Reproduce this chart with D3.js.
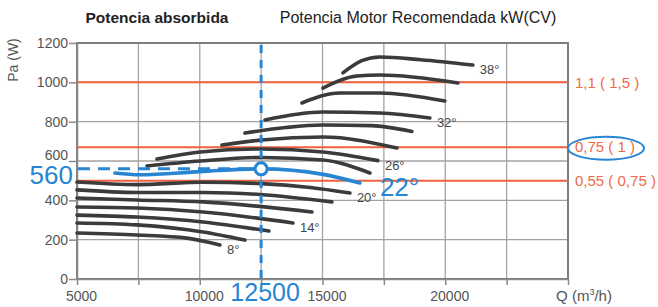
<!DOCTYPE html>
<html>
<head>
<meta charset="utf-8">
<script src="https://cdn.jsdelivr.net/npm/d3@7"></script>
<style>
  body { margin: 0; background: #fff; }
  svg { font-family: "Liberation Sans", Arial, sans-serif; }
  .grid line { stroke: #a3a3a3; stroke-width: 1.3; }
  .axis path, .axis line { stroke: #8a8a8a; stroke-width: 1.5; }
  .axis text { fill: #555; font-size: 14px; }
  .curve { fill: none; stroke: #3b3b3b; stroke-width: 3.6; stroke-linecap: round; }
</style>
</head>
<body>
<script>
// fan curves, [Q m3/h, Pa]
var c8  = [[5000,234],[7443,224],[9479,208],[10823,173]];
var c10 = [[5000,285],[7443,275],[10131,239],[11841,198]];
var c12 = [[5000,325],[7443,315],[10131,290],[12818,244]];
var c14 = [[5000,366],[7443,361],[10131,341],[13795,285]];
var c16 = [[5000,412],[7443,402],[10131,392],[14569,341]];
var c18 = [[5000,453],[7443,440],[10131,440],[12452,430],[15383,392]];
var c20 = [[5000,493],[7443,480],[10131,492],[12500,485],[14500,465],[16116,437]];
var c22 = [[6547,539],[7565,530],[10009,546],[12500,560],[15017,532],[16524,488]];
var c24 = [[7850,575],[10009,600],[12533,618],[15017,605],[16931,539]];
var c26 = [[8258,610],[10009,646],[12533,661],[15017,646],[17257,602]];
var c28 = [[10904,681],[12533,707],[15017,722],[18030,666]];
var c30 = [[11841,742],[13500,770],[15017,783],[17000,780],[18641,750]];
var c32 = [[12655,809],[15017,849],[17338,844],[19374,819]];
var c34 = [[14162,895],[15709,946],[17338,946],[19985,905]];
var c36 = [[15017,971],[16402,1032],[17338,1037],[20514,997]];
var c38 = [[15832,1048],[16600,1110],[17338,1129],[19000,1115],[21125,1088]];

var curves = [c8, c10, c12, c14, c16, c18, c20, c22, c24, c26, c28, c30, c32, c34, c36, c38];
var angles = ["8°","10°","12°","14°","16°","18°","20°","22°","24°","26°","28°","30°","32°","34°","36°","38°"];
var labeled = ["8°","14°","20°","26°","32°","38°"];

// motor power lines
var powerPa = [1000, 670, 500];
var powerLabels = ["1,1 ( 1,5 )", "0,75 ( 1 )", "0,55 ( 0,75 )"];

var opQ = 12500, opPa = 560;

var xTicks = [5000, 7500, 10000, 12500, 15000, 17500, 20000, 22500, 25000];
var xLabels = [5000, 10000, 15000, 20000];
var yTicks = [0, 200, 400, 600, 800, 1000, 1200];

var margin = {top: 43, right: 90, bottom: 28, left: 77},
    width = 658 - margin.left - margin.right,
    height = 307 - margin.top - margin.bottom;

var blue = "#2785d2", red = "#f0603f";

var x = d3.scaleLinear().domain([5000, 25000]).range([0, width]);
var y = d3.scaleLinear().domain([0, 1200]).range([height, 0]);

var svg = d3.select("body").append("svg")
    .attr("width", 658)
    .attr("height", 307);

var g = svg.append("g")
    .attr("transform", "translate(" + margin.left + "," + margin.top + ")");

// grid
g.append("g").attr("class", "grid")
  .selectAll("line").data(xTicks).enter().append("line")
    .attr("x1", function(d) { return x(d); }).attr("x2", function(d) { return x(d); })
    .attr("y1", 0).attr("y2", height);
g.append("g").attr("class", "grid")
  .selectAll("line").data(yTicks).enter().append("line")
    .attr("x1", 0).attr("x2", width)
    .attr("y1", function(d) { return y(d); }).attr("y2", function(d) { return y(d); });

// border
g.append("rect")
  .attr("width", width).attr("height", height)
  .attr("fill", "none").attr("stroke", "#7d7d7d").attr("stroke-width", 2);

// axes
g.append("g")
  .attr("class", "axis")
  .attr("transform", "translate(0," + height + ")")
  .call(d3.axisBottom(x).tickValues(xTicks).tickSize(6).tickSizeOuter(0)
    .tickFormat(function(d) { return xLabels.indexOf(d) >= 0 ? d : ""; }))
  .selectAll("text").attr("dx", 4).attr("dy", "0.95em");

g.append("g")
  .attr("class", "axis")
  .call(d3.axisLeft(y).tickValues(yTicks).tickSize(8).tickSizeOuter(0).tickPadding(1)
    .tickFormat(d3.format("d")))
  .selectAll("text")
  .attr("dy", function(d) { return d == 600 ? "-0.1em" : "0.32em"; }); // 600 sits higher, clear of the 560 label

// power lines
g.selectAll(".power").data(powerPa).enter().append("line")
  .attr("x1", 0).attr("x2", width)
  .attr("y1", function(d) { return y(d); }).attr("y2", function(d) { return y(d); })
  .attr("stroke", red).attr("stroke-width", 2);

g.selectAll(".plabel").data(powerPa).enter().append("text")
  .attr("x", width + 7)
  .attr("y", function(d) { return y(d); })
  .attr("dy", "0.35em")
  .attr("font-size", "15px")
  .attr("fill", "#f06a4a")
  .text(function(d, i) { return powerLabels[i]; });

g.append("ellipse")
  .attr("cx", width + 38).attr("cy", y(powerPa[1]) + 1)
  .attr("rx", 38).attr("ry", 11.5)
  .attr("fill", "none").attr("stroke", blue).attr("stroke-width", 2);

// curves
var line = d3.line()
  .x(function(d) { return x(d[0]); })
  .y(function(d) { return y(d[1]); })
  .curve(d3.curveMonotoneX);

g.selectAll(".curve").data(curves).enter().append("path")
  .attr("class", "curve")
  .attr("d", line)
  .style("stroke", function(d, i) { return angles[i] == "22°" ? blue : null; });

g.selectAll(".alabel").data(curves.filter(function(d, i) { return labeled.indexOf(angles[i]) >= 0; }))
  .enter().append("text")
  .attr("x", function(d) { return x(d[d.length - 1][0]) + 7; })
  .attr("y", function(d) { return y(d[d.length - 1][1]) + 9; })
  .attr("font-size", "13px")
  .attr("fill", "#444")
  .text(function(d) { return angles[curves.indexOf(d)]; });

// operating point
g.append("line")
  .attr("x1", x(opQ)).attr("x2", x(opQ))
  .attr("y1", 2).attr("y2", height)
  .attr("stroke", blue).attr("stroke-width", 3)
  .attr("stroke-dasharray", "8,7");
g.append("line")
  .attr("x1", 1).attr("x2", x(opQ))
  .attr("y1", y(opPa)).attr("y2", y(opPa))
  .attr("stroke", blue).attr("stroke-width", 3)
  .attr("stroke-dasharray", "12,8");
g.append("circle")
  .attr("cx", x(opQ)).attr("cy", y(opPa)).attr("r", 6)
  .attr("fill", "#fff").attr("stroke", blue).attr("stroke-width", 3);

g.append("text")
  .attr("x", -4).attr("y", y(opPa) + 6).attr("dy", "0.36em")
  .attr("text-anchor", "end")
  .attr("font-size", "26px").attr("fill", blue)
  .text(opPa);
g.append("text")
  .attr("x", x(opQ) + 4).attr("y", height + 22)
  .attr("text-anchor", "middle")
  .attr("font-size", "25px").attr("fill", blue)
  .text(opQ);
g.append("text")
  .attr("x", x(c22[c22.length - 1][0]) + 20).attr("y", y(c22[c22.length - 1][1]) + 13)
  .attr("font-size", "26px").attr("fill", blue)
  .text("22°");

// axis titles
g.append("text")
  .attr("x", width + 16).attr("y", height + 22)
  .attr("text-anchor", "middle")
  .attr("font-size", "15px").attr("fill", "#555")
  .html("Q (m<tspan font-size='9px' dy='-6'>3</tspan><tspan dy='6'>/h)</tspan>");

svg.append("text")
  .attr("transform", "translate(18,60) rotate(-90)")
  .attr("text-anchor", "middle")
  .attr("font-size", "14px").attr("fill", "#555")
  .text("Pa (W)");

svg.append("text")
  .attr("x", 157).attr("y", 23)
  .attr("text-anchor", "middle")
  .attr("font-size", "15.5px").attr("font-weight", "bold").attr("fill", "#222")
  .text("Potencia absorbida");
svg.append("text")
  .attr("x", 418).attr("y", 23)
  .attr("text-anchor", "middle")
  .attr("font-size", "16px").attr("fill", "#222")
  .text("Potencia Motor Recomendada kW(CV)");
</script>
</body>
</html>
